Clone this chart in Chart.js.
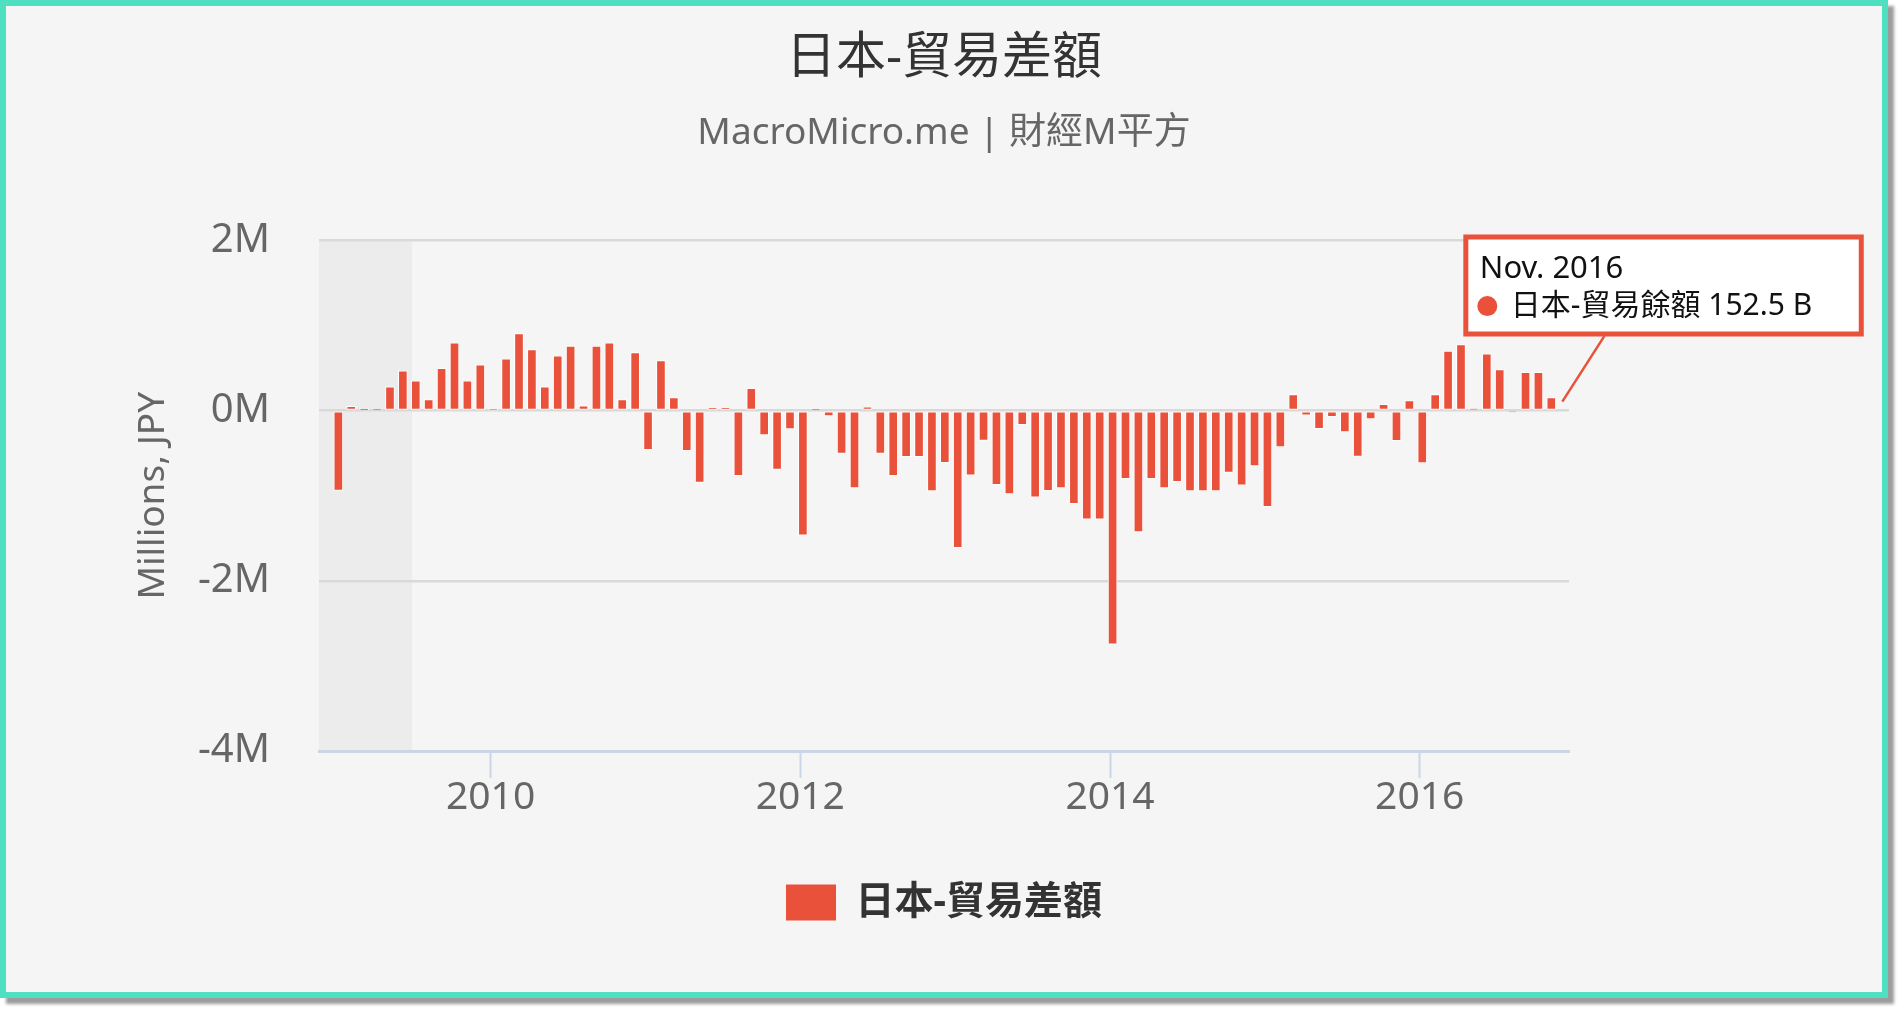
<!DOCTYPE html>
<html>
<head>
<meta charset="utf-8">
<script src="https://cdn.jsdelivr.net/npm/chart.js@4.4.1/dist/chart.umd.min.js"></script>
<style>
  html, body { margin: 0; padding: 0; background: #ffffff; }
  #frame {
    position: absolute; left: 0; top: 0;
    width: 1876px; height: 986px;
    border: 6px solid #4fdfc1;
    background: #f5f5f5;
    box-shadow: 6px 6px 3px #9c9c9c;
  }
  canvas { display: block; }
</style>
</head>
<body>
<div id="frame"><canvas id="tradeChart" width="1876" height="986"></canvas></div>
<script>
// Japan trade balance, billions of JPY, monthly from Jan 2009
const startYear = 2009;
const monthNames = ['Jan.', 'Feb.', 'Mar.', 'Apr.', 'May', 'Jun.', 'Jul.', 'Aug.', 'Sep.', 'Oct.', 'Nov.', 'Dec.'];
const yearTicks = [2010, 2012, 2014, 2016];
const valueTicks = [-4000, -2000, 0, 2000];

const balance2009 = [-937, 51, 8, 15, 278, 467, 349, 129, 498, 796, 349, 537];
const balance2010 = [5, 608, 906, 718, 278, 643, 757, 55, 757, 796, 129, 682];
const balance2011 = [-458, 588, 153, -470, -843, 30, 30, -765, 263, -286, -690, -216];
const balance2012 = [-1463, 15, -63, -502, -910, 45, -502, -765, -541, -541, -945, -612];
const balance2013 = [-1612, -760, -349, -871, -980, -165, -1016, -941, -910, -1094, -1275, -1275];
const balance2014 = [-2745, -800, -1427, -800, -910, -835, -945, -945, -945, -725, -875, -651];
const balance2015 = [-1129, -427, 188, -55, -212, -70, -251, -537, -98, 75, -353, 118];
const balance2016 = [-616, 188, 698, 776, 20, 667, 482, -15, 451, 451, 152.5];

const tradeBalance = [].concat(balance2009, balance2010, balance2011, balance2012,
    balance2013, balance2014, balance2015, balance2016);

const red = '#e9513a';
const barOffset = 0.2;      // bars sit a little after the month start
const shadedUntil = 5.9;    // grey band at the left of the plot, in months

Chart.defaults.font.family = "'Noto Sans', 'Noto Sans CJK TC', sans-serif";

function monthLabel(i) {
    return monthNames[i % 12] + ' ' + (startYear + Math.floor(i / 12));
}

const points = tradeBalance.map((v, i) => ({ x: i + barOffset, y: v }));

Chart.Tooltip.positioners.pinned = function (elements) {
    if (!elements.length) return false;
    const bar = elements[0].element;
    return { x: bar.x - 85.5, y: this.chart.chartArea.top - 3.5 };
};

const bandPlugin = {
    id: 'band',
    beforeDraw(chart) {
        const { ctx, chartArea, scales } = chart;
        const right = scales.x.getPixelForValue(shadedUntil);
        ctx.save();
        ctx.fillStyle = '#ececec';
        ctx.fillRect(chartArea.left, chartArea.top, right - chartArea.left, chartArea.bottom - chartArea.top);
        ctx.restore();
    }
};

const connectorPlugin = {
    id: 'connector',
    afterDraw(chart) {
        const tip = chart.tooltip;
        if (!tip || !tip.opacity || !tip.dataPoints || !tip.dataPoints.length) return;
        const bar = chart.getDatasetMeta(0).data[tip.dataPoints[0].dataIndex];
        const ctx = chart.ctx;
        ctx.save();
        ctx.strokeStyle = red;
        ctx.lineWidth = 2.5;
        ctx.beginPath();
        ctx.moveTo(tip.x + 138.5, tip.y + tip.height + 2);
        ctx.lineTo(bar.x + 11, bar.y + 4);
        ctx.stroke();
        ctx.restore();
    }
};

const ctx = document.getElementById('tradeChart').getContext('2d');

const chart = new Chart(ctx, {
    type: 'bar',
    data: {
        datasets: [{
            label: '日本-貿易差額',
            data: points,
            backgroundColor: red,
            borderColor: '#ffffff',
            borderWidth: 1,
            borderSkipped: false,
            barThickness: 9
        }]
    },
    options: {
        responsive: false,
        animation: false,
        events: [],
        layout: { padding: { left: 125, right: 125, top: 0, bottom: 60 } },
        scales: {
            x: {
                type: 'linear',
                min: -1.3,
                max: 95.57,
                offset: false,
                afterBuildTicks: s => { s.ticks = yearTicks.map(y => ({ value: (y - startYear) * 12 })); },
                afterFit: s => { s.height = 122; },
                grid: { offset: false, drawOnChartArea: false, drawTicks: true, tickLength: 27, tickWidth: 2, tickColor: '#c9d6e6' },
                border: { display: true, color: '#c9d6e6', width: 3 },
                ticks: {
                    padding: -3.5,
                    color: '#666666',
                    font: { size: 39 },
                    maxRotation: 0,
                    autoSkip: false,
                    callback: v => String(startYear + v / 12)
                }
            },
            y: {
                min: -4000,
                max: 2000,
                afterBuildTicks: s => { s.ticks = valueTicks.map(v => ({ value: v })); },
                afterFit: s => { s.width = 188; },
                grid: { color: '#d9d9d9', lineWidth: 2.5, drawTicks: false },
                border: { display: false },
                ticks: {
                    padding: 49,
                    color: '#666666',
                    font: { size: 40 },
                    callback: v => (v / 1000) + 'M'
                },
                title: {
                    display: true,
                    text: 'Millions, JPY',
                    color: '#666666',
                    font: { size: 37 },
                    padding: 0
                }
            },
            // empty right-hand axis: keeps the margin right of the plot
            spacer: {
                type: 'linear',
                position: 'right',
                display: true,
                afterFit: s => { s.width = 188; },
                grid: { display: false },
                border: { display: false },
                ticks: { display: false }
            }
        },
        plugins: {
            title: {
                display: true,
                text: '日本-貿易差額',
                color: '#333333',
                font: { size: 50, weight: 'normal' },
                padding: { top: 23, bottom: 0 }
            },
            subtitle: {
                display: true,
                text: 'MacroMicro.me | 財經M平方',
                color: '#666666',
                font: { size: 37 },
                padding: { top: 22, bottom: 85 }
            },
            legend: {
                position: 'bottom',
                labels: {
                    boxWidth: 50,
                    boxHeight: 36,
                    padding: 10,
                    color: '#333333',
                    font: { size: 39, weight: 'bold' },
                    generateLabels: c => Chart.defaults.plugins.legend.labels.generateLabels(c)
                        .map(l => Object.assign(l, { lineWidth: 0, strokeStyle: red }))
                }
            },
            tooltip: {
                enabled: true,
                position: 'pinned',
                xAlign: 'left',
                yAlign: 'top',
                caretSize: 0,
                caretPadding: 0,
                cornerRadius: 0,
                backgroundColor: '#ffffff',
                borderColor: red,
                borderWidth: 5,
                titleColor: '#111111',
                bodyColor: '#111111',
                titleFont: { size: 31, weight: 'normal' },
                bodyFont: { size: 30 },
                titleMarginBottom: 0,
                padding: { left: 14, right: 49, top: 14, bottom: 10 },
                displayColors: true,
                usePointStyle: true,
                boxWidth: 15,
                boxHeight: 15,
                boxPadding: 14,
                animation: false,
                callbacks: {
                    title: items => monthLabel(items[0].dataIndex),
                    label: item => '日本-貿易餘額 ' + item.parsed.y + ' B',
                    labelColor: () => ({ borderColor: red, backgroundColor: red }),
                    labelPointStyle: () => ({ pointStyle: 'circle', rotation: 0 })
                }
            }
        }
    },
    plugins: [bandPlugin, connectorPlugin]
});

chart.tooltip.setActiveElements([{ datasetIndex: 0, index: tradeBalance.length - 1 }], { x: 0, y: 0 });
chart.update();
</script>
</body>
</html>
